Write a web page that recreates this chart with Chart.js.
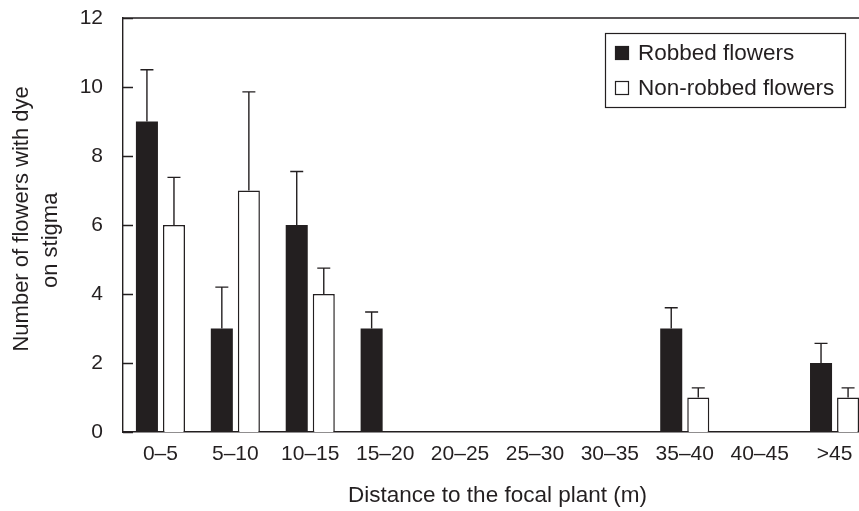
<!DOCTYPE html>
<html>
<head>
<meta charset="utf-8">
<script src="https://cdn.jsdelivr.net/npm/chart.js@4/dist/chart.umd.min.js"></script>
<style>
  html, body { margin: 0; padding: 0; background: #fff; overflow: hidden; }
  #wrap { width: 859px; height: 511px; overflow: hidden; position: relative; }
  canvas { display: block; }
</style>
</head>
<body>
<div id="wrap"><canvas id="c" width="880" height="511"></canvas></div>
<script>
const categories = ['0–5', '5–10', '10–15', '15–20', '20–25', '25–30', '30–35', '35–40', '40–45', '>45'];
const robbed = [9, 3, 6, 3, 0, 0, 0, 3, 0, 2];
const robbedErr = [1.5, 1.2, 1.55, 0.48, 0, 0, 0, 0.6, 0, 0.57];
const nonRobbed = [6, 7, 4, 0, 0, 0, 0, 1, 0, 1];
const nonRobbedErr = [1.38, 2.86, 0.75, 0, 0, 0, 0, 0.28, 0, 0.28];
const yTicks = [0, 2, 4, 6, 8, 10, 12];
const seriesNames = ['Robbed flowers', 'Non-robbed flowers'];
const yTitle = ['  Number of flowers with dye', 'on stigma     '];
const xTitle = 'Distance to the focal plant (m)';

const INK = '#231f20';
const FONT = "'Liberation Sans', Arial, Helvetica, sans-serif";

Chart.defaults.font.family = FONT;
Chart.defaults.color = INK;

const errorBars = {
  id: 'errorBars',
  afterDatasetsDraw(chart) {
    const ctx = chart.ctx;
    const y = chart.scales.y;
    chart.data.datasets.forEach((ds, di) => {
      const meta = chart.getDatasetMeta(di);
      meta.data.forEach((bar, i) => {
        const e = ds.errors[i];
        if (!e) return;
        const v = ds.data[i];
        const y0 = y.getPixelForValue(v);
        const y1 = y.getPixelForValue(v + e);
        ctx.save();
        ctx.strokeStyle = INK;
        ctx.lineWidth = 1.4;
        ctx.beginPath();
        ctx.moveTo(bar.x, y0);
        ctx.lineTo(bar.x, y1);
        ctx.moveTo(bar.x - 6.5, y1);
        ctx.lineTo(bar.x + 6.5, y1);
        ctx.stroke();
        ctx.restore();
      });
    });
  }
};

const frame = {
  id: 'frame',
  afterDraw(chart) {
    const ctx = chart.ctx;
    const a = chart.chartArea;
    const y = chart.scales.y;
    ctx.save();
    ctx.strokeStyle = INK;
    ctx.lineWidth = 1.4;
    ctx.beginPath();
    ctx.moveTo(a.left, a.top);
    ctx.lineTo(a.right, a.top);
    yTicks.forEach(t => {
      const py = Math.round(y.getPixelForValue(t)) + 0.5;
      ctx.moveTo(a.left, py);
      ctx.lineTo(a.left + 10, py);
    });
    ctx.stroke();
    ctx.restore();
  }
};

const boxLegend = {
  id: 'boxLegend',
  afterDraw(chart, args, opts) {
    const ctx = chart.ctx;
    ctx.save();
    ctx.strokeStyle = INK;
    ctx.lineWidth = 1.2;
    ctx.strokeRect(opts.x + 0.5, opts.y + 0.5, opts.w, opts.h);
    ctx.font = opts.fontSize + 'px ' + FONT;
    ctx.textBaseline = 'middle';
    ctx.textAlign = 'left';
    chart.data.datasets.forEach((ds, i) => {
      const cy = opts.y + opts.firstRow + i * opts.rowGap;
      const sx = opts.x + 10;
      ctx.fillStyle = ds.backgroundColor;
      ctx.fillRect(sx, cy - 7, 14, 14);
      ctx.lineWidth = 1.2;
      ctx.strokeStyle = INK;
      ctx.strokeRect(sx + 0.5, cy - 6.5, 13, 13);
      ctx.fillStyle = INK;
      ctx.fillText(ds.label, sx + 23, cy + 1);
    });
    ctx.restore();
  }
};

new Chart(document.getElementById('c'), {
  type: 'bar',
  data: {
    labels: categories,
    datasets: [
      {
        label: seriesNames[0],
        data: robbed,
        errors: robbedErr,
        backgroundColor: INK,
        borderColor: INK,
        borderWidth: 0,
        categoryPercentage: 0.722,
        barPercentage: 0.815
      },
      {
        label: seriesNames[1],
        data: nonRobbed,
        errors: nonRobbedErr,
        backgroundColor: '#ffffff',
        borderColor: INK,
        borderWidth: 1.5,
        borderSkipped: 'bottom',
        categoryPercentage: 0.722,
        barPercentage: 0.815
      }
    ]
  },
  options: {
    responsive: false,
    animation: false,
    devicePixelRatio: 1,
    layout: { padding: { left: 0, top: 18, right: 8, bottom: 0 } },
    plugins: {
      legend: { display: false },
      tooltip: { enabled: false },
      boxLegend: { x: 605, y: 33, w: 240, h: 74, firstRow: 20, rowGap: 35, fontSize: 22.5 }
    },
    scales: {
      x: {
        offset: true,
        grid: { display: false, drawTicks: false },
        border: { display: true, color: INK, width: 1.4 },
        ticks: { font: { size: 21 }, padding: 10, maxRotation: 0, autoSkip: false },
        title: {
          display: true,
          text: xTitle,
          font: { size: 22.5 },
          padding: { top: 0, bottom: 1.5 }
        },
        afterFit(scale) { scale.height = 79; scale.paddingLeft = 0; scale.paddingRight = 0; }
      },
      y: {
        min: 0,
        max: 12,
        afterBuildTicks(scale) { scale.ticks = yTicks.map(v => ({ value: v })); },
        grid: { display: false, drawTicks: false },
        border: { display: true, color: INK, width: 1.4 },
        ticks: { font: { size: 21 }, padding: 20 },
        title: {
          display: true,
          text: yTitle,
          font: { size: 22, lineHeight: 1.3 },
          padding: { top: 8, bottom: 0 }
        },
        afterFit(scale) { scale.width = 123; scale.paddingTop = 0; scale.paddingBottom = 0; }
      }
    }
  },
  plugins: [errorBars, frame, boxLegend]
});
</script>
</body>
</html>
